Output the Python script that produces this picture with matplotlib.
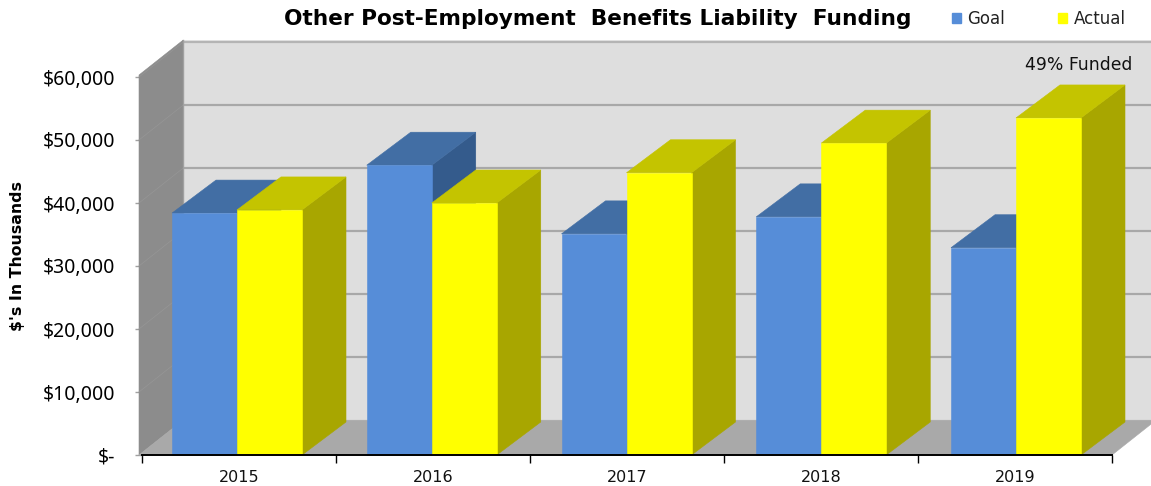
import numpy as np
import matplotlib
matplotlib.use("Agg")
import matplotlib.pyplot as plt
from matplotlib.patches import Polygon, Patch

years = ["2015", "2016", "2017", "2018", "2019"]
goal = [38400, 46000, 35100, 37800, 32900]
actual = [38900, 40000, 44800, 49500, 53500]
yticks = [0, 10000, 20000, 30000, 40000, 50000, 60000]
ylabels = ["$-", "$10,000", "$20,000", "$30,000", "$40,000", "$50,000", "$60,000"]

W, H = 1151, 486
X0, X1, Y0, Y1 = 142, 1112, 455, 77  # front plane in pixels
px_x = 5 / (X1 - X0)
px_y = 60000 / (Y0 - Y1)
WALL_DX, WALL_DY = 44 * px_x, 34.8 * px_y
BAR_DX, BAR_DY = 44 * px_x, 33 * px_y
BAR_W = 65 * px_x

BLUE = ("#568dd8", "#426ea4", "#345b8c")
YELLOW = ("#ffff00", "#c4c400", "#a8a600")


def face(ax, pts, color, z, edge=None, lw=0.4):
    ax.add_patch(Polygon(pts, closed=True, facecolor=color, edgecolor=edge or color,
                         linewidth=lw, zorder=z, clip_on=False))


def bar3d(ax, left, value, colors, z):
    right = left + BAR_W
    dx, dy = BAR_DX, BAR_DY
    face(ax, [(right, 0), (right + dx, dy), (right + dx, value + dy), (right, value)], colors[2], z)
    face(ax, [(left, value), (right, value), (right + dx, value + dy), (left + dx, value + dy)], colors[1], z)
    face(ax, [(left, 0), (right, 0), (right, value), (left, value)], colors[0], z)


fig = plt.figure(figsize=(W / 100, H / 100), dpi=100)
ax = fig.add_axes([X0 / W, 1 - Y0 / H, (X1 - X0) / W, (Y0 - Y1) / H])
ax.set_xlim(-0.5, 4.5)
ax.set_ylim(0, 60000)
ax.patch.set_visible(False)
ax.set_axisbelow(True)

xl = -0.5 - 3 * px_x
xr = 4.5
top = 60000 + 2 * px_y

# back wall, side wall, floor
face(ax, [(xl + WALL_DX, WALL_DY), (xr + WALL_DX, WALL_DY), (xr + WALL_DX, top + WALL_DY),
          (xl + WALL_DX, top + WALL_DY)], "#dedede", 1)
face(ax, [(xl, 0), (xl + WALL_DX, WALL_DY), (xl + WALL_DX, top + WALL_DY), (xl, top)], "#8c8c8c", 1)
face(ax, [(xl, 0), (xr, 0), (xr + WALL_DX, WALL_DY), (xl + WALL_DX, WALL_DY)], "#a9a9a9", 1)

for v in yticks[1:]:
    ax.plot([xl + WALL_DX, xr + WALL_DX], [v + WALL_DY, v + WALL_DY], color="#a8a8a8" if v < 60000 else "#b4b4b4",
            lw=1.6, zorder=2, clip_on=False, solid_capstyle="butt")
    ax.plot([xl, xl + WALL_DX], [v, v + WALL_DY], color="#969696", lw=0.5, zorder=2, clip_on=False)
ax.plot([xl + WALL_DX, xl + WALL_DX], [WALL_DY, top + WALL_DY], color="#a0a0a0", lw=1, zorder=2, clip_on=False)

# bars sit a little off the tick centres in the original
centers = [(237 + 194.75 * i - X0) * px_x - 0.5 for i in range(len(years))]
z = 3
for i, c in enumerate(centers):
    bar3d(ax, c - BAR_W, goal[i], BLUE, z)
    bar3d(ax, c, actual[i], YELLOW, z + 1)
    z += 2

for s in ("top", "left", "right"):
    ax.spines[s].set_visible(False)
ax.spines["bottom"].set_linewidth(1.4)
ax.spines["bottom"].set_zorder(50)

ax.set_xticks(np.arange(-0.5, 5, 1))
ax.set_xticklabels([])
ax.set_xticks(np.arange(5), labels=years, minor=True)
ax.tick_params(axis="x", which="major", length=6, width=1, color="black", direction="out")
ax.tick_params(axis="x", which="minor", length=0, pad=11, labelsize=11.5, labelcolor="#111111")
for lab in ax.get_xticklabels(minor=True):
    lab.set_fontfamily("DejaVu Sans")

ax.set_yticks(yticks, labels=ylabels)
ax.tick_params(axis="y", length=5, width=1, color="#a0a0a0", pad=14.4, labelsize=14, labelcolor="black")
for lab in ax.get_yticklabels():
    lab.set_fontfamily("Noto Sans")

fig.text(18 / W, 1 - 256 / H, "$'s In Thousands", rotation=90, fontsize=11.3, fontweight="bold",
         ha="center", va="center", family="DejaVu Sans")
fig.text(598 / W, 1 - 19 / H, "Other Post-Employment  Benefits Liability  Funding", fontsize=15.6,
         fontweight="bold", ha="center", va="center", family="DejaVu Sans")
ax.text(4 + 64 * px_x, 60000 + 12 * px_y, "49% Funded", fontsize=12.4, ha="center", va="center",
        family="DejaVu Sans", color="#111111", zorder=40)

handles = [Patch(color=BLUE[0], label="Goal"), Patch(color=YELLOW[0], label="Actual")]
fig.legend(handles=handles, ncol=2, frameon=False, loc="center left", bbox_to_anchor=(952 / W, 1 - 19 / H),
           fontsize=12, handlelength=0.55, handleheight=0.55, handletextpad=0.36, columnspacing=3.2,
           borderpad=0, borderaxespad=0, labelcolor="#222222")

fig.savefig("out.png", dpi=100)
